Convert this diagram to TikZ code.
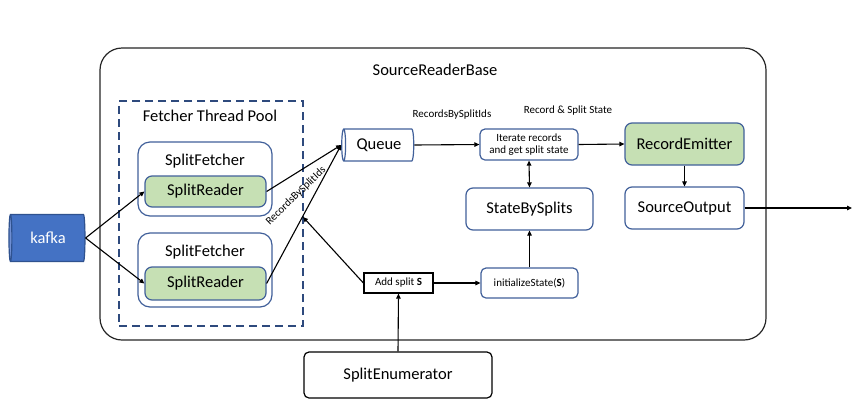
\documentclass[tikz,border=0pt]{standalone}
\usepackage{fontspec}
\setmainfont{Carlito}
\usetikzlibrary{shapes.geometric,arrows.meta}
\definecolor{bord}{HTML}{41609A}
\definecolor{navy}{HTML}{2E4A7D}
\definecolor{grn}{HTML}{C6E0B4}
\definecolor{kblue}{HTML}{4472C4}
\definecolor{kedge}{HTML}{2F528F}
\definecolor{kend}{HTML}{6F8FD3}
\newcommand{\bigf}{\fontsize{16.5}{19}\selectfont}
\newcommand{\smallf}{\fontsize{11}{12.5}\selectfont}
\begin{document}
\begin{tikzpicture}[x=1pt,y=-1pt,
  rbox/.style={draw=bord, line width=1.2pt, rounded corners=7pt, fill=white, font=\bigf, align=center, inner sep=0pt},
  gbox/.style={rbox, fill=grn},
  sbox/.style={rbox, font=\smallf, rounded corners=5pt},
  lbl/.style={font=\bigf, inner sep=0pt},
  slbl/.style={font=\smallf, inner sep=0pt},
  arr/.style={-{Triangle[length=5pt,width=4.5pt]}, line width=1.1pt},
  darr/.style={{Triangle[length=5pt,width=4.5pt]}-{Triangle[length=5pt,width=4.5pt]}, line width=1.1pt},
  cyl/.style={cylinder, shape border rotate=180, inner sep=0pt, font=\bigf}
]
\useasboundingbox (0,0) rectangle (860,416);
\fill[white] (0,0) rectangle (860,416);

% outer box
\node[draw=black!85, line width=1.2pt, rounded corners=22pt, minimum width=666pt, minimum height=292pt, inner sep=0pt] (srb) at (433,194) {};
\node[lbl] (srbt) at (435,70) {SourceReaderBase};

% fetcher pool
\node[draw=navy, line width=2pt, dash pattern=on 8pt off 5pt, minimum width=184pt, minimum height=225pt, inner sep=0pt] (pool) at (211,213.5) {};
\node[lbl] (poolt) at (210,116) {Fetcher Thread Pool};

\node[rbox, rounded corners=12pt, minimum width=134pt, minimum height=74pt] (sf1) at (205,179) {};
\node[lbl] (sf1t) at (205,161) {SplitFetcher};
\node[gbox, minimum width=121pt, minimum height=31pt] (sr1) at (205.5,191.5) {SplitReader};

\node[rbox, rounded corners=12pt, minimum width=134pt, minimum height=74pt] (sf2) at (205,270) {};
\node[lbl] (sf2t) at (205,252) {SplitFetcher};
\node[gbox, minimum width=121pt, minimum height=33pt] (sr2) at (205.5,283.5) {SplitReader};

% kafka
\node[cyl, draw=kedge, line width=1.2pt, cylinder uses custom fill, cylinder body fill=kblue, cylinder end fill=kend, aspect=0.25, minimum height=76pt, minimum width=47pt, text=white] (kafka) at (48,238) {kafka};

% queue
\node[cyl, draw=bord, line width=1.2pt, fill=white, aspect=0.3, minimum height=72pt, minimum width=32pt] (queue) at (379,145) {Queue};

% right part
\node[sbox, minimum width=98pt, minimum height=31pt] (iter) at (529,144.5) {Iterate records\\and get split state};
\node[gbox, minimum width=119pt, minimum height=42pt] (remit) at (684.5,144) {RecordEmitter};
\node[rbox, minimum width=119pt, minimum height=42pt] (sout) at (684.5,208) {SourceOutput};
\node[rbox, minimum width=127pt, minimum height=42pt] (sbs) at (529.5,209) {StateBySplits};
\node[sbox, minimum width=97pt, minimum height=30pt] (init) at (529.5,283) {initializeState(\textbf{S})};
\node[draw=black, line width=1.2pt, fill=white, font=\smallf, inner sep=0pt, minimum width=69pt, minimum height=20pt] (adds) at (398.5,283) {Add split \textbf{S}};
\node[draw=black, line width=1.2pt, rounded corners=5pt, fill=white, font=\bigf, inner sep=0pt, minimum width=188pt, minimum height=46pt] (senum) at (398,375) {SplitEnumerator};

% labels
\node[slbl] (l1) at (452,115) {RecordsBySplitIds};
\node[slbl] (l2) at (568,111) {Record \& Split State};
\node[slbl, rotate=44] (l3) at (296,196) {RecordsBySplitIds};

\coordinate (poolin) at (303,217);
\coordinate (out) at (852,208);

% connectors
\draw[arr] (kafka.east) -- (sr1.west);
\draw[arr] (kafka.east) -- (sr2.west);
\draw[arr] (sr1.east) -- (queue.west);
\draw[arr] (sr2.east) -- (queue.west);
\draw[arr] (adds.west) -- (poolin);
\draw[arr] (queue.east) -- (iter.west);
\draw[arr] (iter.east) -- (remit.west);
\draw[arr] (remit.south) -- (sout.north);
\draw[arr] (sout.east) -- (out);
\draw[darr] (iter.south) -- (sbs.north);
\draw[arr] (init.north) -- (sbs.south);
\draw[arr] (adds.east) -- (init.west);
\draw[arr] (senum.north) -- (adds.south);
\end{tikzpicture}
\end{document}
